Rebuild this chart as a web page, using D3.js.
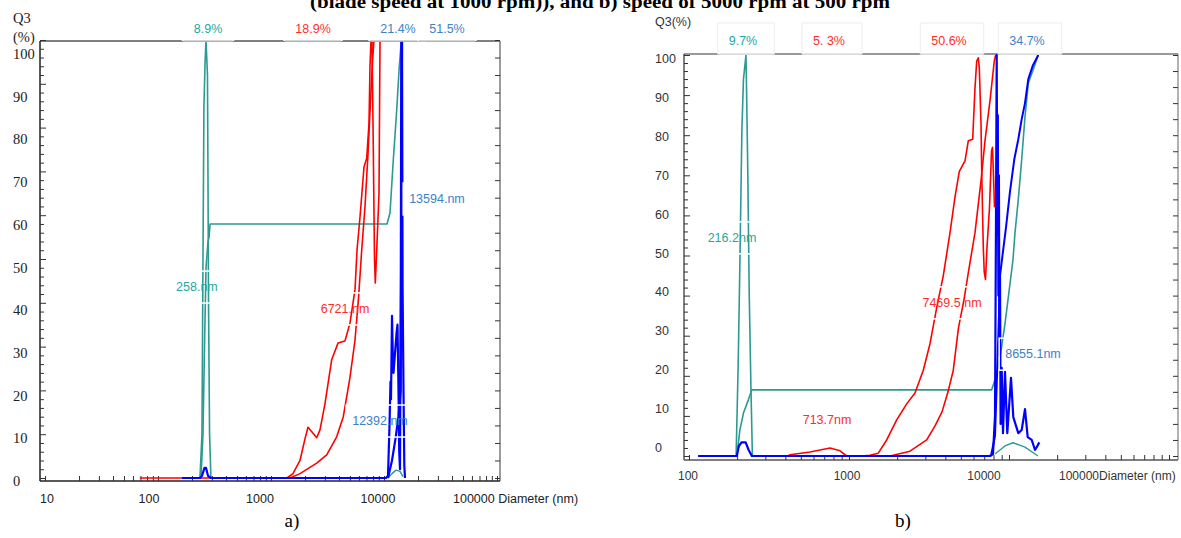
<!doctype html>
<html lang="en">
<head>
<meta charset="UTF-8">
<script src="https://cdn.jsdelivr.net/npm/d3@7/dist/d3.min.js"></script>
<style>
  body { margin: 0; background: #fff; }
  svg { display: block; }
  .serif { font-family: "Liberation Serif", "Times New Roman", serif; }
  .sans { font-family: "Liberation Sans", Arial, sans-serif; }
  .axis path { display: none; }
  .axis line { stroke: #333; }
  .curve { fill: none; stroke-linejoin: round; }
</style>
</head>
<body>
<svg id="fig" width="1181" height="538"></svg>
<script>
// ---------- panel a) data : [diameter nm, Q3 %] ----------
const aTealFreq = [[235,0],[245,10],[250,50],[255,85],[261,95],[266,100],[274,92],[277,68],[280,40],[286,10],[294,0]];
const aTealCum = [[240,0],[250,10],[258,30],[266,48],[277,54],[283,55],[289,58],[10629,58],[11300,60.5],[12088,72.6],[12955,84],[13655,94],[14052,98],[14284,100]];
const aTealBump = [[10850,0],[11770,1],[12770,1.8],[13855,1.5],[14730,0.3]];
const aRed1 = [[69,0],[1385,0],[1565,1],[1806,4],[2000,9],[2125,11.6],[2306,10.5],[2538,9.2],[2714,11],[3006,17],[3445,27],[3916,30.8],[4517,31.3],[5002,35.4],[5540,43],[5770,52],[6133,59.6],[6653,71],[7030,73],[7368,81],[7519,94],[7674,100],[7831,100],[8041,75],[8240,50],[8375,44.5],[8620,52],[9033,65],[9218,100]];
const aRed2 = [[1473,0],[1806,1],[2538,3.4],[3111,5.3],[3814,9.4],[4364,14],[5002,23],[5540,31.5],[5948,41],[6348,52],[6791,62],[7218,74],[7596,86],[7911,95],[8156,100]];
const aBlueFreq = [[163,0],[235,0],[245,0.5],[258,2.3],[266,2.3],[277,0.5],[294,0],[10416,0],[10850,0.5],[11186,12],[11415,22],[11532,18],[11770,37],[11964,28],[12137,24],[12386,27],[12641,30],[12900,33],[13166,35],[13437,20],[13630,6],[13855,2],[14083,45],[14227,100],[14432,100],[14610,43],[14880,20],[15122,3],[15340,0]];
const aBlueCum = [[10850,0],[11770,4],[12641,9],[13437,14],[14052,20],[14227,60],[14432,100]];
const aTopLabels = [["8.9%",277,"teal"],["18.9%",2355,"red"],["21.4%",13300,"blue"],["51.5%",36100,"blue"]];
const aPlotLabels = [["258.nm",221,43.6,"teal"],["6721.nm",4519,38.6,"red"],["12392.nm",9218,13,"blue"],["13594.nm",29440,63.7,"blue"]];
const aXTicks = [10,100,1000,10000,100000];

// ---------- panel b) data ----------
const bTealFreq = [[197,0],[203,23],[208,48],[214,81],[219,94],[227,100],[229,91],[233,71],[238,40],[244,16.5],[249,0]];
const bTealCum = [[199,0],[208,6.5],[219,10.7],[235,14],[247,16.5],[7797,16.5],[8176,19],[8785,24.5],[9441,33],[10146,43],[10593,49],[10902,55.7],[11433,64],[12008,74],[12589,84.6],[13202,93],[14068,96],[15244,100]];
const bTealBump = [[8176,0.5],[9441,2.5],[10593,3.3],[12589,2.2],[15178,0]];
const bRed1 = [[416,0],[428,0.3],[571,1],[761,2],[879,1.3],[967,0],[1201,0],[1353,0.2],[1524,0.7],[1720,4],[1987,9],[2294,13],[2585,15.7],[2913,21.4],[3208,28],[3533,37],[3885,45],[4279,55.7],[4598,64.6],[4892,71],[5309,73.6],[5567,78.6],[5931,79],[6131,91.8],[6283,98.5],[6429,99.3],[6523,96.8],[6683,83],[6751,71],[6849,59],[6909,52],[6998,46],[7130,44],[7286,52],[7553,62],[7774,76],[7887,77],[8000,70],[8117,62]];
const bRed2 = [[1804,0],[2406,1.2],[3059,4],[3449,7.5],[3814,11],[4157,16],[4486,21.4],[4835,32],[5233,39],[5583,46],[6131,55.7],[6683,68.6],[7079,78.6],[7608,88.6],[8093,98.5],[8259,100]];
const bBlueFreq = [[114,0],[199,0],[205,2.5],[213,3.4],[226,3.4],[236,1.5],[247,0],[7608,0],[7943,0.5],[8176,10],[8295,60],[8378,100],[8451,55],[8511,85],[8586,40],[8648,70],[8710,25],[8785,45],[8862,8],[9002,22],[9172,5.7],[9441,21],[9759,5.7],[10292,19.5],[10638,9.7],[11433,5.7],[12008,6.5],[12589,11.7],[13088,4.7],[13866,4],[14540,1.5],[14900,2.2],[15467,3.4]];
const bBlueCum = [[7718,0],[8176,5],[8414,20],[8660,35],[8785,45],[9578,57],[10146,66],[10793,74],[11433,79],[12008,84],[12589,88],[13202,94],[14068,97.3],[15244,100]];
const bTopLabels = [["9.7%",217.5,"teal"],["5. 3%",750,"red"],["50.6%",4217,"red"],["34.7%",12956,"blue"]];
const bPlotLabels = [["216.2nm",185.7,54.4,"teal"],["713.7nm",729,9,"red"],["7469.5 nm",4404,38.2,"red"],["8655.1nm",14125,25.4,"blue"]];
const bXTicks = [100,1000,10000,100000];

const yTicks = d3.range(0, 101, 10);

const lineColor = { teal: "#2c9a93", red: "#ff0000", blue: "#0000ff" };
const textColor = { teal: "#23a8a2", red: "#ff2b2b", blue: "#3d82c6" };

const svg = d3.select("#fig");

// cut-off figure title at the very top (only its lower part shows)
svg.append("text").attr("class", "serif")
  .attr("x", 600).attr("y", 8).attr("text-anchor", "middle")
  .attr("font-size", 18).attr("font-weight", "bold")
  .attr("textLength", 580).attr("lengthAdjust", "spacingAndGlyphs")
  .text("(blade speed at 1000 rpm)), and b) speed of 5000 rpm at 500 rpm");

function minorTicks(domain) {
  let t = [];
  for (let p = Math.log10(domain[0]); p < Math.log10(domain[1]); p++) {
    for (let k = 1; k < 10; k++) t.push(k * Math.pow(10, p));
  }
  t.push(domain[1]);
  return t;
}

function drawPanel(p) {
  const g = svg.append("g");
  const x = d3.scaleLog().domain(p.xDomain).range(p.xRange);
  const y = d3.scaleLinear().domain([0, 100]).range(p.yRange);
  const yLab = d3.scaleLinear().domain([0, 100]).range(p.yLabRange);
  const line = d3.line().x(d => x(d[0])).y(d => y(d[1]));

  // frame
  g.append("line").attr("x1", p.left).attr("x2", p.right).attr("y1", p.top).attr("y2", p.top)
    .attr("stroke", p.topColor).attr("stroke-width", 1.3);
  g.append("line").attr("x1", p.right).attr("x2", p.right).attr("y1", p.top).attr("y2", p.bottom)
    .attr("stroke", p.rightColor).attr("stroke-width", 1.3);
  g.append("line").attr("x1", p.left).attr("x2", p.left).attr("y1", p.top).attr("y2", p.bottom)
    .attr("stroke", p.axisColor).attr("stroke-width", 1.5);
  g.append("line").attr("x1", p.left).attr("x2", p.right).attr("y1", p.bottom).attr("y2", p.bottom)
    .attr("stroke", p.axisColor).attr("stroke-width", 1.5);

  // left ticks (inward)
  g.append("g").attr("class", "axis").attr("transform", "translate(" + p.left + ",0)")
    .call(d3.axisRight(y).tickValues(d3.range(0, 101, 2).filter(v => v % 10)).tickSize(4).tickFormat(""));
  g.append("g").attr("class", "axis").attr("transform", "translate(" + p.left + ",0)")
    .call(d3.axisRight(y).tickValues(yTicks).tickSize(6).tickFormat(""));
  // right ticks
  g.append("g").attr("class", "axis").attr("transform", "translate(" + p.right + ",0)")
    .call(d3.axisLeft(y).tickValues(d3.range(0, 101, 4)).tickSize(5).tickFormat(""));
  // bottom ticks
  g.append("g").attr("class", "axis").attr("transform", "translate(0," + p.bottom + ")")
    .call(d3.axisTop(x).tickValues(minorTicks(p.tickDomain)).tickSize(5).tickFormat(""));
  g.selectAll(".axis line").attr("stroke", p.axisColor);

  // y labels
  g.selectAll(".ylab").data(yTicks).enter().append("text")
    .attr("class", p.yFont)
    .attr("x", p.yLabX).attr("y", d => yLab(d))
    .attr("dominant-baseline", "central")
    .attr("font-size", p.yFontSize).attr("fill", p.labelColor)
    .text(d => d);

  // x labels
  p.xTicks.forEach(function (t) {
    const last = t === p.xTicks[p.xTicks.length - 1];
    g.append("text").attr("class", "sans")
      .attr("x", x(t) + p.xShift(t)).attr("y", p.xLabY)
      .attr("text-anchor", last ? "start" : "middle")
      .attr("font-size", p.xFontSize).attr("fill", p.labelColor)
      .text(last ? "100000" + p.diamSep + "Diameter (nm)" : t);
  });

  // curves
  p.curves.forEach(function (c) {
    g.append("path").attr("class", "curve").datum(c.data)
      .attr("d", line)
      .attr("stroke", lineColor[c.color])
      .attr("stroke-width", c.width);
  });

  // in-plot labels with white boxes
  p.plotLabels.forEach(function (l) {
    const t = g.append("text").attr("class", "sans")
      .attr("x", x(l[1])).attr("y", y(l[2]))
      .attr("text-anchor", "middle").attr("dominant-baseline", "central")
      .attr("font-size", 12.5).attr("fill", textColor[l[3]])
      .text(l[0]);
    const b = t.node().getBBox();
    g.insert("rect", () => t.node())
      .attr("x", b.x - 6).attr("y", b.y + b.height / 2 - 16)
      .attr("width", b.width + 12).attr("height", 32)
      .attr("fill", "none").attr("stroke", p.boxStroke).attr("stroke-width", 1.5);
  });

  // top labels with boxes
  p.topLabels.forEach(function (l) {
    const t = g.append("text").attr("class", "sans")
      .attr("x", x(l[1])).attr("y", p.top - p.topLabOffset)
      .attr("text-anchor", "middle").attr("dominant-baseline", "central")
      .attr("font-size", 12.5).attr("fill", textColor[l[2]])
      .text(l[0]);
    const b = t.node().getBBox();
    const bx = b.x - p.topPad[0], bw = b.width + p.topPad[0] + p.topPad[1];
    g.insert("rect", () => t.node())
      .attr("x", bx).attr("y", p.top - p.topBoxH)
      .attr("width", bw).attr("height", p.topBoxH)
      .attr("fill", "#fff").attr("stroke", p.topBoxStroke).attr("stroke-width", 1);
    // lighter piece of the frame under the box
    g.insert("line", () => t.node())
      .attr("x1", bx + 1.5).attr("x2", bx + bw - 1.5).attr("y1", p.top).attr("y2", p.top)
      .attr("stroke", p.topEdge).attr("stroke-width", 1.3);
  });
  return g;
}

// ---------- panel a) ----------
drawPanel({
  left: 40, right: 500, top: 41, bottom: 481,
  xDomain: [10, 100000], xRange: [45, 497], tickDomain: [10, 100000],
  yRange: [478, 40], yLabRange: [481, 54],
  topColor: "#555", rightColor: "#666", axisColor: "#222", labelColor: "#222",
  yFont: "serif", yFontSize: 14.5, yLabX: 13, xLabY: 503, xFontSize: 12.5,
  xTicks: aXTicks, diamSep: " ",
  xShift: t => ({10: 2, 100: -9, 1000: -11, 10000: -6, 100000: -44})[t],
  boxStroke: "#fff", topBoxStroke: "none", topEdge: "#c4c4c4", topBoxH: 26, topPad: [12, 12], topLabOffset: 12,
  curves: [
    {data: aTealFreq, color: "teal", width: 1.6},
    {data: aTealCum, color: "teal", width: 1.6},
    {data: aTealBump, color: "teal", width: 1.4},
    {data: aRed1, color: "red", width: 1.6},
    {data: aRed2, color: "red", width: 1.6},
    {data: aBlueCum, color: "blue", width: 2.2},
    {data: aBlueFreq, color: "blue", width: 2.2}
  ],
  plotLabels: aPlotLabels, topLabels: aTopLabels
});
svg.append("text").attr("class", "serif").attr("x", 13).attr("y", 18)
  .attr("dominant-baseline", "central").attr("font-size", 14.5).attr("fill", "#222").text("Q3");
svg.append("text").attr("class", "serif").attr("x", 13).attr("y", 37)
  .attr("dominant-baseline", "central").attr("font-size", 14.5).attr("fill", "#222").text("(%)");

// ---------- panel b) ----------
drawPanel({
  left: 684, right: 1178, top: 54, bottom: 460,
  xDomain: [100, 100000], xRange: [689, 1169], tickDomain: [100, 100000],
  yRange: [456, 55], yLabRange: [448, 59],
  topColor: "#777", rightColor: "#888", axisColor: "#555", labelColor: "#333",
  yFont: "sans", yFontSize: 12.5, yLabX: 655, xLabY: 480, xFontSize: 12,
  xTicks: bXTicks, diamSep: "",
  xShift: t => ({100: -1, 1000: -2, 10000: -25, 100000: -110})[t],
  boxStroke: "#fff", topBoxStroke: "#ededed", topEdge: "#e2e2e2", topBoxH: 31, topPad: [11, 17], topLabOffset: 13,
  curves: [
    {data: bTealFreq, color: "teal", width: 1.6},
    {data: bTealCum, color: "teal", width: 1.6},
    {data: bTealBump, color: "teal", width: 1.4},
    {data: bRed1, color: "red", width: 1.6},
    {data: bRed2, color: "red", width: 1.6},
    {data: bBlueCum, color: "blue", width: 2},
    {data: bBlueFreq, color: "blue", width: 2.2}
  ],
  plotLabels: bPlotLabels, topLabels: bTopLabels
});
svg.append("text").attr("class", "sans").attr("x", 655).attr("y", 22)
  .attr("dominant-baseline", "central").attr("font-size", 12.5).attr("fill", "#333").text("Q3(%)");

// captions
svg.append("text").attr("class", "serif").attr("x", 292).attr("y", 527)
  .attr("text-anchor", "middle").attr("font-size", 19).text("a)");
svg.append("text").attr("class", "serif").attr("x", 903).attr("y", 527)
  .attr("text-anchor", "middle").attr("font-size", 19).text("b)");
</script>
</body>
</html>
